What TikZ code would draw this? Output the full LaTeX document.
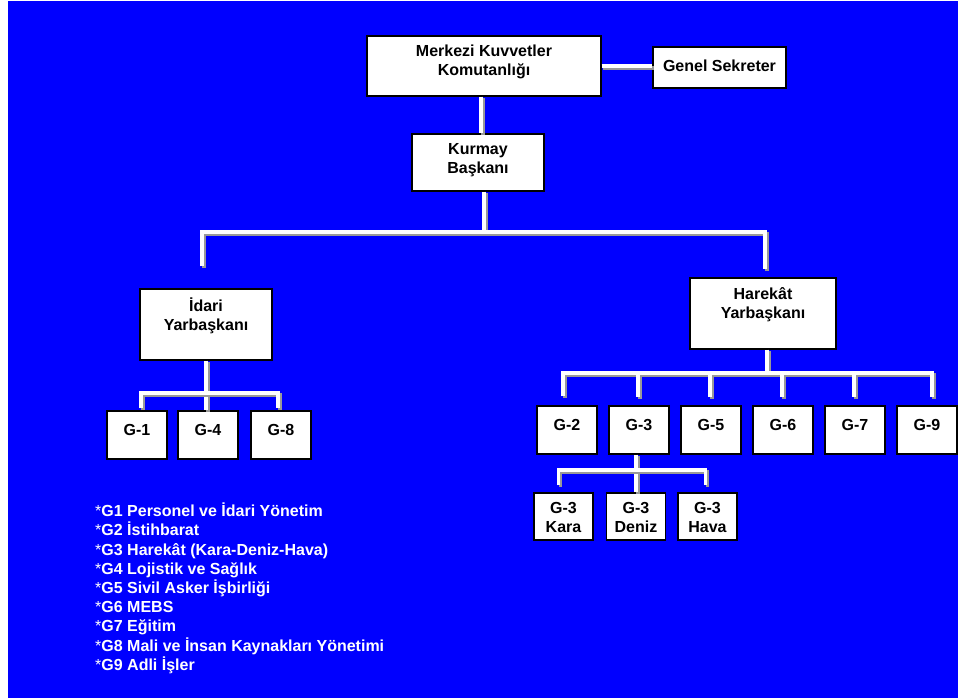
\documentclass[tikz,border=0pt]{standalone}
\usepackage{fontspec}
\setmainfont{Liberation Sans}
\usetikzlibrary{calc}

\tikzset{
  box/.style={draw=black, line width=1.2pt, fill=white, inner sep=0pt},
  boxtext/.style={anchor=north, inner sep=0pt, yshift=-9.5pt, align=center,
    font=\fontsize{16}{19}\selectfont\bfseries, execute at begin node=\rule{0pt}{15pt}},
  keytext/.style={anchor=north west, inner sep=0pt, align=left, text=white,
    font=\fontsize{16}{19.2}\selectfont\bfseries, execute at begin node=\rule{0pt}{15pt}},
  link/.style={draw=white, line width=3.6pt,
    preaction={draw=black!40, line width=3.6pt, transform canvas={xshift=1.8pt, yshift=-1.8pt}}},
}
% box (name)(centre)[width:height]{text}, text sits at the top
\def\orgbox(#1)(#2)[#3:#4]#5{%
  \node[box, minimum width=#3pt, minimum height=#4pt] (#1) at (#2) {};
  \node[boxtext] (#1-t) at (#1.north) {#5};}

\begin{document}
\begin{tikzpicture}[x=1pt, y=-1pt]
		\useasboundingbox (0,0) rectangle (958,698);
		\fill[blue] (8,1) rectangle (958,698);
		
		%%%%% boxes %%%%%
		\orgbox(mkk)(484,66)[234:60]{Merkezi Kuvvetler\\Komutanlığı}
		\orgbox(gs)(719.5,67.5)[133:41]{Genel Sekreter}
		\orgbox(kb)(478,162.5)[132:57]{Kurmay\\Başkanı}
		\orgbox(idari)(206,324.5)[132:71]{İdari\\Yarbaşkanı}
		\orgbox(harekat)(763,313.5)[146:71]{Harekât\\Yarbaşkanı}
		
		\foreach \n/\x in {1/137,4/208,8/281}
			{\orgbox(g\n)(\x,435)[60:48]{G-\n}}
		\foreach \n/\x in {2/567,3/639,5/711,6/783,7/855,9/927}
			{\orgbox(g\n)(\x,430)[60:48]{G-\n}}
		
		\orgbox(g3k)(563.5,516.5)[59:47]{G-3\\Kara}
		\orgbox(g3d)(636,516.5)[59:47]{G-3\\Deniz}
		\orgbox(g3h)(707.5,516.5)[59:47]{G-3\\Hava}
		
		%%%%% links %%%%%
		\coordinate (bar1) at (0,232);
		\coordinate (bar2) at (0,393);
		\coordinate (bar3) at (0,373);
		\coordinate (bar4) at (0,470);
		
		\draw[link] (mkk.east) -- (mkk.east -| gs.west);
		\draw[link] ([xshift=3pt]kb.north |- mkk.south) -- ([xshift=3pt]kb.north);
		
		\draw[link] ([xshift=6pt]kb.south) -- ([xshift=6pt]kb.south |- bar1);
		\draw[link] ([xshift=-4pt,yshift=22pt]idari.north) -- ([xshift=-4pt]idari.north |- bar1)
			-- ([xshift=2pt]harekat.north |- bar1) -- ([xshift=2pt,yshift=8pt]harekat.north);
		
		\draw[link] (idari.south) -- (idari.south |- g4.north);
		\draw[link] ([xshift=4pt,yshift=2pt]g1.north) -- ([xshift=4pt]g1.north |- bar2)
			-- ([xshift=-3pt]g8.north |- bar2) -- ([xshift=-3pt,yshift=2pt]g8.north);
		
		\draw[link] ([xshift=4pt]harekat.south) -- ([xshift=4pt]harekat.south |- bar3);
		\draw[link] ([xshift=-4pt,yshift=9pt]g2.north) -- ([xshift=-4pt]g2.north |- bar3)
			-- ([xshift=5pt]g9.north |- bar3) -- ([xshift=5pt,yshift=8pt]g9.north);
		\foreach \g in {g3,g5,g6,g7}
			\draw[link] ([xshift=-1pt]\g.north |- bar3) -- ([xshift=-1pt,yshift=8pt]\g.north);
		
		\draw[link] ([xshift=-3pt]g3.south) -- ([xshift=-3pt]g3.south |- bar4) -- (g3d.north);
		\draw[link] ([xshift=-5pt,yshift=7pt]g3k.north) -- ([xshift=-5pt]g3k.north |- bar4)
			-- ([xshift=-2pt]g3h.north |- bar4) -- ([xshift=-2pt,yshift=7pt]g3h.north);
		
		%%%%% key %%%%%
		\node[keytext] (key) at (95,502.75) {%
			{\mdseries*}G1 Personel ve İdari Yönetim\\
			{\mdseries*}G2 İstihbarat\\
			{\mdseries*}G3 Harekât (Kara-Deniz-Hava)\\
			{\mdseries*}G4 Lojistik ve Sağlık\\
			{\mdseries*}G5 Sivil Asker İşbirliği\\
			{\mdseries*}G6 MEBS\\
			{\mdseries*}G7 Eğitim\\
			{\mdseries*}G8 Mali ve İnsan Kaynakları Yönetimi\\
			{\mdseries*}G9 Adli İşler};
	\end{tikzpicture}
\end{document}
